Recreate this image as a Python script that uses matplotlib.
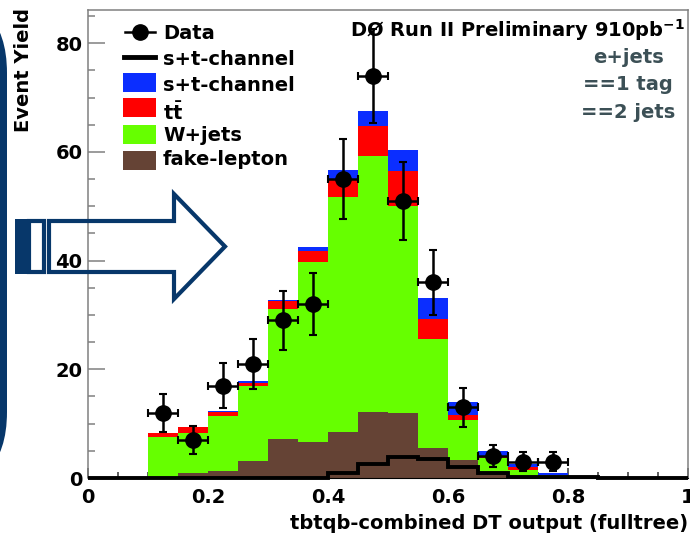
import numpy as np
import matplotlib.pyplot as plt
import matplotlib.transforms as mtransforms
from matplotlib.patches import FancyBboxPatch, Polygon, Rectangle
from matplotlib.lines import Line2D
from matplotlib.ticker import MultipleLocator

# 20 bins of width 0.05 in the decision-tree output
edges = np.linspace(0.0, 1.0, 21)

fake_lepton = [0, 0, 0.2, 0.9, 1.3, 3.1, 7.1, 6.7, 8.5, 12.2, 12.0, 5.6, 3.3, 0.8, 0.4, 0.1, 0, 0, 0, 0]
w_jets = [0, 0, 7.4, 7.45, 10.1, 13.9, 24.0, 33.1, 43.2, 47.1, 38.1, 19.9, 7.3, 2.8, 1.1, 0.4, 0.1, 0, 0, 0]
ttbar = [0, 0, 0.6, 0.95, 0.75, 0.55, 1.4, 1.9, 3.3, 5.5, 6.3, 3.7, 1.0, 0.3, 0.5, 0.1, 0, 0, 0, 0]
st_stack = [0, 0, 0.15, 0.1, 0.15, 0.25, 0.3, 0.8, 1.6, 2.7, 4.0, 3.9, 2.3, 1.1, 0.5, 0.3, 0.05, 0, 0, 0]
st_line = [0, 0, 0, 0, 0, 0, 0, 0, 0.85, 2.6, 3.9, 3.5, 2.0, 0.85, 0.25, 0.1, 0.1, 0, 0, 0]
data = [0, 0, 12, 7, 17, 21, 29, 32, 55, 74, 51, 36, 13, 4, 3, 3, 0, 0, 0, 0]

stack_colors = ['#654335', '#66ff00', '#ff0000', '#0b2eff']
navy = '#07376a'

plt.rcParams['font.family'] = 'DejaVu Sans'
plt.rcParams['font.weight'] = 'bold'
plt.rcParams['axes.labelweight'] = 'bold'
plt.rcParams['mathtext.fontset'] = 'dejavusans'

fig = plt.figure(figsize=(6.9, 5.33), dpi=100)
ax = fig.add_axes([88 / 690, 55 / 533, 600 / 690, 468 / 533])

# pixel coordinates, origin top-left
pix = mtransforms.Affine2D().scale(1 / 690, -1 / 533).translate(0, 1) + fig.transFigure

# stacked backgrounds + signal
base = np.zeros(len(edges) - 1)
for vals, c in zip([fake_lepton, w_jets, ttbar, st_stack], stack_colors):
    top = base + np.array(vals, dtype=float)
    ax.stairs(top, edges, baseline=base, fill=True, color=c, lw=0, zorder=2)
    base = top

# signal alone as a line
ax.stairs(st_line, edges, baseline=None, color='k', lw=2.8, zorder=4, clip_on=False)

# data with poisson errors
centers = 0.5 * (edges[:-1] + edges[1:])
d = np.array(data, dtype=float)
m = d > 0
ax.errorbar(centers[m], d[m], xerr=0.025, yerr=np.sqrt(d[m]), fmt='o', color='k',
            ms=11, elinewidth=1.8, capsize=3, capthick=1.5, zorder=5)

ax.set_xlim(0, 1)
ax.set_ylim(0, 86.1)
ax.set_xticks([0, 0.2, 0.4, 0.6, 0.8, 1.0])
ax.set_xticklabels(['0', '0.2', '0.4', '0.6', '0.8', '1'])
ax.xaxis.set_minor_locator(MultipleLocator(0.05))
ax.set_yticks([0, 20, 40, 60, 80])
ax.yaxis.set_minor_locator(MultipleLocator(5))
ax.tick_params(axis='y', which='major', direction='in', length=12, width=1.1,
               color='#808080', labelsize=14, pad=4)
ax.tick_params(axis='y', which='minor', direction='in', length=5, width=1.1, color='#808080')
ax.tick_params(axis='x', which='major', direction='in', length=7, width=1.1,
               color='#333333', labelsize=14, pad=7)
ax.tick_params(axis='x', which='minor', direction='in', length=4, width=1.1, color='#333333')
for s in ['left', 'top', 'right']:
    ax.spines[s].set_color('#808080')
    ax.spines[s].set_linewidth(1.1)
ax.spines['bottom'].set_color('k')

ax.set_xlabel('tbtqb-combined DT output (fulltree)', loc='right', fontsize=14,
              fontweight='bold', labelpad=5)
fig.text(24, 8, 'Event Yield', transform=pix, rotation=90, ha='center', va='top', fontsize=14)

# legend
fig.add_artist(Line2D([125, 155], [32, 32], transform=pix, color='k', lw=1.8))
fig.add_artist(Line2D([140], [32], transform=pix, color='k', marker='o', ms=11))
fig.add_artist(Line2D([124, 155], [57, 57], transform=pix, color='k', lw=3.5))
patch_tops = [73, 98, 125, 151]
for y0, c in zip(patch_tops, stack_colors[::-1]):
    fig.add_artist(Rectangle((123, y0), 33, 19, transform=pix, fc=c, ec='none'))
labels = ['Data', 's+t-channel', 's+t-channel', r'$\mathbf{t\bar{t}}$', 'W+jets', 'fake-lepton']
baselines = [39, 65, 91, 120, 141, 165]
for lab, yb in zip(labels, baselines):
    fig.text(163, yb, lab, transform=pix, ha='left', va='baseline', fontsize=14)

fig.text(685, 37, r'DØ Run II Preliminary 910pb$^{\mathbf{-1}}$', transform=pix,
         ha='right', va='baseline', fontsize=14)
for lab, yb in zip(['e+jets', '==1 tag', '==2 jets'], [63, 90.5, 118]):
    fig.text(628, yb, lab, transform=pix, ha='center', va='baseline', fontsize=14, color='#3c5056')

# slide decoration: side panel and striped arrow
fig.add_artist(FancyBboxPatch((-200, -7), 207, 499, boxstyle='round,pad=0,rounding_size=80',
                              transform=pix, fc=navy, ec='none'))
fig.add_artist(Rectangle((15, 219), 12, 55, transform=pix, fc=navy, ec='none'))
fig.add_artist(Rectangle((29, 221), 15, 51, transform=pix, fill=False, ec=navy, lw=3))
arrow = [(49, 221), (174, 221), (174, 194), (225, 246.5), (174, 299), (174, 272), (49, 272)]
fig.add_artist(Polygon(arrow, closed=True, transform=pix, fill=False, ec=navy, lw=3,
                       joinstyle='miter'))

fig.savefig('out.png', dpi=100, facecolor='white')
